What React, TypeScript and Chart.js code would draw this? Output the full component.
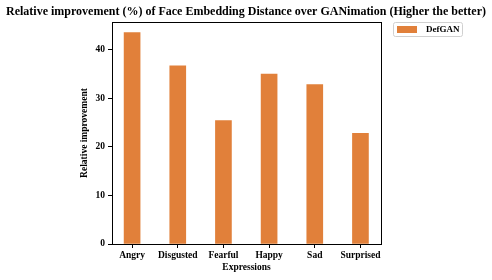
import React, { useEffect, useRef } from "react";
import { Chart, registerables } from "chart.js";

Chart.register(...registerables);

const categories = ["Angry", "Disgusted", "Fearful", "Happy", "Sad", "Surprised"];
const defganValues = [43.5, 36.7, 25.4, 35.0, 32.8, 22.8];
const yTickValues = [0, 10, 20, 30, 40];
const seriesLabel = "DefGAN";
const titleText = "Relative improvement (%) of Face Embedding Distance over GANimation (Higher the better)";
const xTitle = "Expressions";
const yTitle = "Relative improvement";

const FONT = "'Liberation Serif', 'Times New Roman', serif";
const BAR_COLOR = "#E1803A";

const overlay = {
  id: "overlay",
  afterDraw(chart: any) {
    const { ctx, chartArea } = chart;
    const { left, right, top, bottom } = chartArea;
    ctx.save();
    ctx.strokeStyle = "#000";
    ctx.lineWidth = 1;
    ctx.strokeRect(Math.round(left) + 0.5, Math.round(top) + 0.5, Math.round(right - left), Math.round(bottom - top));
    ctx.fillStyle = "#000";
    ctx.textAlign = "center";
    ctx.textBaseline = "middle";
    ctx.font = `bold 12px ${FONT}`;
    ctx.fillText(titleText, 246, 12);
    ctx.font = `bold 9.5px ${FONT}`;
    ctx.fillText(xTitle, (left + right) / 2, 268);
    ctx.save();
    ctx.translate(85, (top + bottom) / 2);
    ctx.rotate(-Math.PI / 2);
    ctx.fillText(yTitle, 0, 0);
    ctx.restore();
    const lx = 393.5, ly = 22.5, lw = 69, lh = 14;
    ctx.strokeStyle = "#d0d0d0";
    ctx.lineWidth = 1;
    ctx.beginPath();
    const r = 2;
    ctx.moveTo(lx + r, ly);
    ctx.lineTo(lx + lw - r, ly);
    ctx.quadraticCurveTo(lx + lw, ly, lx + lw, ly + r);
    ctx.lineTo(lx + lw, ly + lh - r);
    ctx.quadraticCurveTo(lx + lw, ly + lh, lx + lw - r, ly + lh);
    ctx.lineTo(lx + r, ly + lh);
    ctx.quadraticCurveTo(lx, ly + lh, lx, ly + lh - r);
    ctx.lineTo(lx, ly + r);
    ctx.quadraticCurveTo(lx, ly, lx + r, ly);
    ctx.stroke();
    ctx.fillStyle = BAR_COLOR;
    ctx.fillRect(397, 26, 20, 7);
    ctx.fillStyle = "#000";
    ctx.textAlign = "left";
    ctx.font = `bold 9px ${FONT}`;
    ctx.fillText(chart.data.datasets[0].label, 426, 30);
    ctx.restore();
  },
};

export default function App() {
  const ref = useRef<HTMLCanvasElement>(null);
  useEffect(() => {
    if (!ref.current) return;
    const chart = new Chart(ref.current, {
      type: "bar",
      data: {
        datasets: [
          {
            label: seriesLabel,
            data: defganValues.map((v, i) => ({ x: i, y: v })),
            backgroundColor: BAR_COLOR,
            barThickness: 16,
          },
        ],
      },
      options: {
        animation: false,
        responsive: false,
        maintainAspectRatio: false,
        layout: { padding: { left: 0, right: 111, top: 22, bottom: 0 } },
        plugins: { legend: { display: false }, title: { display: false }, tooltip: { enabled: false } },
        scales: {
          x: {
            type: "linear",
            offset: false,
            min: -0.44,
            max: 5.45,
            afterBuildTicks: (s: any) => {
              s.ticks = categories.map((_, i) => ({ value: i }));
            },
            afterFit: (s: any) => {
              s.height = 36;
            },
            ticks: {
              callback: (v: any) => categories[Math.round(v)] ?? "",
              color: "#000",
              font: { family: FONT, size: 9.5, weight: "bold" },
              padding: 2,
              maxRotation: 0,
              autoSkip: false,
            },
            grid: { display: true, offset: false, drawOnChartArea: false, drawTicks: true, tickLength: 4, color: "#000" },
            border: { display: false },
          },
          y: {
            type: "linear",
            min: 0,
            max: 45.7,
            afterBuildTicks: (s: any) => {
              s.ticks = yTickValues.map((v) => ({ value: v }));
            },
            afterFit: (s: any) => {
              s.width = 112;
            },
            ticks: {
              color: "#000",
              font: { family: FONT, size: 9.5, weight: "bold" },
              padding: 3,
            },
            grid: { display: true, drawOnChartArea: false, drawTicks: true, tickLength: 4, color: "#000" },
            border: { display: false },
          },
        },
      },
      plugins: [overlay],
    });
    return () => chart.destroy();
  }, []);
  return (
    <div style={{ position: "fixed", left: 0, top: 0, width: 492, height: 280, background: "#fff" }}>
      <canvas ref={ref} width={492} height={280} style={{ width: 492, height: 280 }} />
    </div>
  );
}
